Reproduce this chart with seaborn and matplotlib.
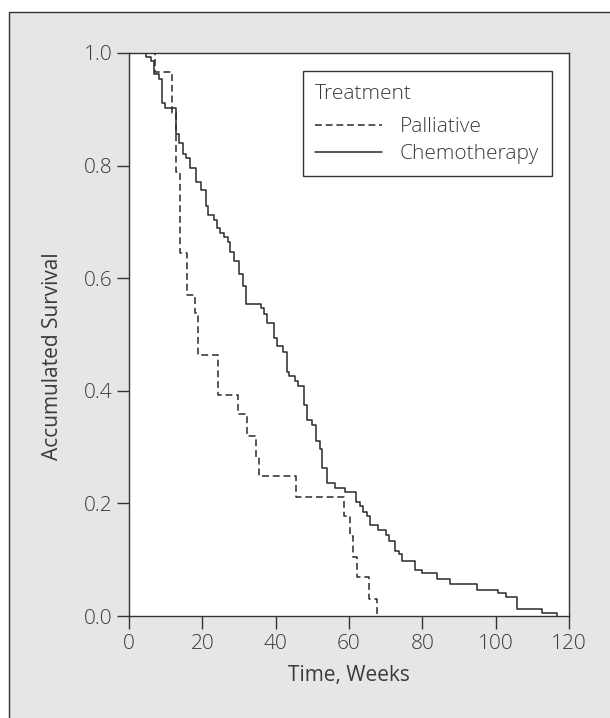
import matplotlib
matplotlib.use("Agg")
import matplotlib.pyplot as plt
from matplotlib.patches import Rectangle
import seaborn as sns
import pandas as pd

# Palliative (dashed) Kaplan-Meier steps
pall_time = [0, 7.1, 11.6, 12.8, 13.9, 15.7, 18.0, 18.9, 24.4, 29.8, 32.1, 34.6,
             35.5, 45.5, 58.7, 60.3, 61.2, 62.1, 65.5, 67.6]
pall_surv = [1.0, 0.967, 0.893, 0.789, 0.644, 0.570, 0.538, 0.464, 0.393, 0.358,
             0.320, 0.283, 0.249, 0.211, 0.178, 0.142, 0.104, 0.070, 0.031, 0.0]

# Chemotherapy (solid) Kaplan-Meier steps
chemo_time = [0, 4.5, 5.9, 6.9, 8.1, 8.9, 9.9, 12.8, 13.6, 14.6, 15.5, 16.6, 18.2,
              19.6, 21.0, 21.6, 23.2, 23.9, 24.8, 25.9, 26.9, 27.5, 28.6, 29.9,
              31.0, 31.9, 36.0, 36.8, 37.7, 39.5, 40.4, 41.9, 43.0, 43.7, 45.2,
              46.2, 47.7, 48.6, 49.8, 51.0, 52.1, 52.6, 54.1, 56.1, 59.0, 61.8,
              63.0, 63.7, 64.8, 65.8, 68.0, 70.0, 70.9, 72.6, 73.6, 74.5, 78.0,
              79.9, 83.9, 87.5, 94.8, 100.5, 102.8, 105.7, 112.6, 116.8]
chemo_surv = [1.0, 0.993, 0.985, 0.963, 0.953, 0.911, 0.903, 0.857, 0.840, 0.821,
              0.813, 0.795, 0.771, 0.757, 0.728, 0.712, 0.703, 0.689, 0.681, 0.673,
              0.665, 0.647, 0.630, 0.607, 0.586, 0.555, 0.547, 0.536, 0.521, 0.493,
              0.480, 0.469, 0.434, 0.426, 0.418, 0.409, 0.375, 0.348, 0.339, 0.311,
              0.297, 0.262, 0.236, 0.228, 0.221, 0.203, 0.195, 0.185, 0.178, 0.161,
              0.153, 0.144, 0.133, 0.115, 0.110, 0.098, 0.082, 0.076, 0.066, 0.057,
              0.047, 0.040, 0.033, 0.012, 0.005, 0.0]

groups = ["Palliative", "Chemotherapy"]
x_ticks = [0, 20, 40, 60, 80, 100, 120]
y_ticks = [0.0, 0.2, 0.4, 0.6, 0.8, 1.0]

df = pd.concat([
    pd.DataFrame({"Time": pall_time, "Survival": pall_surv, "Treatment": groups[0]}),
    pd.DataFrame({"Time": chemo_time, "Survival": chemo_surv, "Treatment": groups[1]}),
], ignore_index=True)

sns.set_style("white")
plt.rcParams["font.family"] = ["Open Sans", "DejaVu Sans"]
plt.rcParams["font.weight"] = "light"
FS = 15
TXT = "#3a3a3a"
LINE = "#2a2a2a"

fig = plt.figure(figsize=(6.10, 7.18), dpi=100, facecolor="white")
top = 1 - 12 / 718
fig.patches.append(Rectangle((9 / 610, -0.2), 1.5, top + 0.2,
                             transform=fig.transFigure, facecolor="#e5e6e7",
                             edgecolor="#333333", linewidth=1.0, zorder=-10))
ax = fig.add_axes([129 / 610, 1 - 616 / 718, 440 / 610, 563 / 718])
ax.set_facecolor("white")

sns.lineplot(data=df, x="Time", y="Survival", style="Treatment",
             style_order=groups, dashes={"Palliative": (4.5, 2.5), "Chemotherapy": ""},
             color=LINE, linewidth=1.1, drawstyle="steps-post", estimator=None,
             sort=False, ax=ax)

ax.set_xlim(0, 120)
ax.set_ylim(0, 1.0)
ax.set_xticks(x_ticks)
ax.set_yticks(y_ticks)
ax.set_yticklabels([f"{v:.1f}" for v in y_ticks])
ax.tick_params(axis="both", direction="out", length=9, width=1, color="#333333",
               labelsize=FS, labelcolor=TXT, pad=3, left=True, bottom=True)
ax.tick_params(axis="x", pad=4)
for s in ax.spines.values():
    s.set_visible(True)
    s.set_color("#333333")
    s.set_linewidth(1.0)

ax.set_xlabel("Time, Weeks", fontsize=FS, color=TXT)
ax.set_ylabel("Accumulated Survival", fontsize=FS, color=TXT)
ax.xaxis.set_label_coords(0.5, (616 - 675) / 563, transform=ax.transAxes)
ax.xaxis.label.set_va("center")
ax.yaxis.set_label_coords((53 - 129) / 440, (616 - 356) / 563)
ax.yaxis.label.set_va("center")

handles, labels = ax.get_legend_handles_labels()
if ax.get_legend():
    ax.get_legend().remove()
hl = [(h, l) for h, l in zip(handles, labels) if l in groups]
leg = ax.legend([h for h, _ in hl], [l for _, l in hl], title="Treatment",
                loc="upper right", bbox_to_anchor=(0.961, 0.968), borderaxespad=0,
                fontsize=FS, title_fontsize=FS, frameon=True, fancybox=False,
                edgecolor="#333333", framealpha=1, handlelength=3.2,
                handletextpad=0.87, borderpad=0.6, labelspacing=0.32)
leg._legend_box.align = "left"
leg._legend_box.sep = 0.32 * FS + 5
leg.get_frame().set_linewidth(1.0)
for t in leg.get_texts():
    t.set_color(TXT)
leg.get_title().set_color(TXT)

fig.savefig("out.png", dpi=100, facecolor=fig.get_facecolor())
